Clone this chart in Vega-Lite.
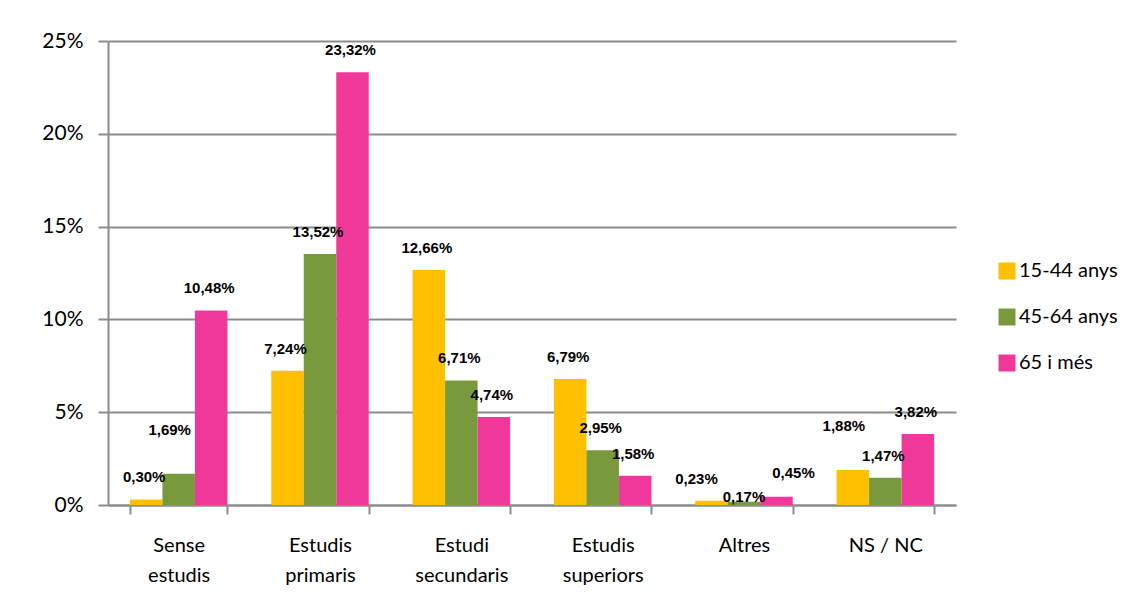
{
  "$schema": "https://vega.github.io/schema/vega-lite/v6.json",
  "width": 848,
  "height": 464,
  "autosize": {"type": "none"},
  "padding": {"left": 108, "top": 41, "right": 186, "bottom": 109},
  "background": "white",
  "config": {
    "locale": {"number": {"decimal": ",", "thousands": ".", "grouping": [3], "currency": ["", " €"]}},
    "view": {"stroke": null},
    "font": "Lato",
    "text": {"font": "Liberation Sans", "fontWeight": "bold", "fontSize": 15, "baseline": "bottom", "color": "#000"}
  },
  "data": {
    "values": [
      {"cat": "Sense|estudis", "grp": "15-44 anys", "v": 0.0030},
      {"cat": "Sense|estudis", "grp": "45-64 anys", "v": 0.0169},
      {"cat": "Sense|estudis", "grp": "65 i més", "v": 0.1048},
      {"cat": "Estudis|primaris", "grp": "15-44 anys", "v": 0.0724},
      {"cat": "Estudis|primaris", "grp": "45-64 anys", "v": 0.1352},
      {"cat": "Estudis|primaris", "grp": "65 i més", "v": 0.2332},
      {"cat": "Estudi|secundaris", "grp": "15-44 anys", "v": 0.1266},
      {"cat": "Estudi|secundaris", "grp": "45-64 anys", "v": 0.0671},
      {"cat": "Estudi|secundaris", "grp": "65 i més", "v": 0.0474},
      {"cat": "Estudis|superiors", "grp": "15-44 anys", "v": 0.0679},
      {"cat": "Estudis|superiors", "grp": "45-64 anys", "v": 0.0295},
      {"cat": "Estudis|superiors", "grp": "65 i més", "v": 0.0158},
      {"cat": "Altres", "grp": "15-44 anys", "v": 0.0023},
      {"cat": "Altres", "grp": "45-64 anys", "v": 0.0017},
      {"cat": "Altres", "grp": "65 i més", "v": 0.0045},
      {"cat": "NS / NC", "grp": "15-44 anys", "v": 0.0188},
      {"cat": "NS / NC", "grp": "45-64 anys", "v": 0.0147},
      {"cat": "NS / NC", "grp": "65 i més", "v": 0.0382}
    ]
  },
  "encoding": {
    "x": {
      "field": "cat", "type": "nominal", "sort": null, "title": null,
      "scale": {"paddingInner": 0.31, "paddingOuter": 0.155},
      "axis": {
        "labelAngle": 0,
        "labelExpr": "split(datum.label, '|')",
        "labelFont": "Lato", "labelFontSize": 20, "labelColor": "#000",
        "labelLineHeight": 30, "labelPadding": 21, "labelBaseline": "top",
        "tickBand": "extent", "tickSize": 9, "tickColor": "#8c8c8c", "tickWidth": 2,
        "domainColor": "#8c8c8c", "domainWidth": 2
      }
    },
    "xOffset": {"field": "grp", "type": "nominal", "sort": ["15-44 anys", "45-64 anys", "65 i més"]},
    "y": {
      "field": "v", "type": "quantitative", "title": null,
      "scale": {"domain": [0, 0.25], "nice": false},
      "axis": {
        "values": [0, 0.05, 0.1, 0.15, 0.2, 0.25], "format": ".0%",
        "labelFont": "Lato", "labelFontSize": 21, "labelColor": "#000", "labelPadding": 15,
        "tickSize": 10, "tickColor": "#8c8c8c", "tickWidth": 2,
        "grid": true, "gridColor": "#8c8c8c", "gridWidth": 2,
        "domainColor": "#8c8c8c", "domainWidth": 2
      }
    },
    "text": {"field": "v", "type": "quantitative", "format": ".2%"}
  },
  "layer": [
    {
      "mark": {"type": "bar"},
      "encoding": {
        "text": null,
        "color": {
          "field": "grp", "type": "nominal",
          "scale": {"domain": ["15-44 anys", "45-64 anys", "65 i més"], "range": ["#FFC000", "#789A3C", "#F0389A"]},
          "legend": {
            "title": null, "orient": "none", "legendX": 889, "legendY": 220,
            "symbolType": "square", "symbolSize": 289, "symbolStrokeWidth": 0,
            "labelFont": "Lato", "labelFontSize": 20, "labelColor": "#000",
            "rowPadding": 26, "labelOffset": 2
          }
        }
      }
    },
    {
      "transform": [{"filter": "!((datum.cat == 'Sense|estudis' && datum.grp == '45-64 anys') || (datum.cat == 'NS / NC' && datum.grp == '15-44 anys') || datum.cat == 'Altres')"}],
      "mark": {"type": "text", "dy": -14, "dx": -2}
    },
    {
      "transform": [{"filter": "(datum.cat == 'Sense|estudis' && datum.grp == '45-64 anys') || (datum.cat == 'NS / NC' && datum.grp == '15-44 anys')"}],
      "mark": {"type": "text", "dy": -36, "dx": -9}
    },
    {
      "transform": [{"filter": "datum.cat == 'Altres' && datum.grp == '15-44 anys'"}],
      "mark": {"type": "text", "dy": -14, "dx": -15}
    },
    {
      "transform": [{"filter": "datum.cat == 'Altres' && datum.grp == '45-64 anys'"}],
      "mark": {"type": "text", "dy": 3, "dx": 0}
    },
    {
      "transform": [{"filter": "datum.cat == 'Altres' && datum.grp == '65 i més'"}],
      "mark": {"type": "text", "dy": -16, "dx": 17}
    }
  ]
}
